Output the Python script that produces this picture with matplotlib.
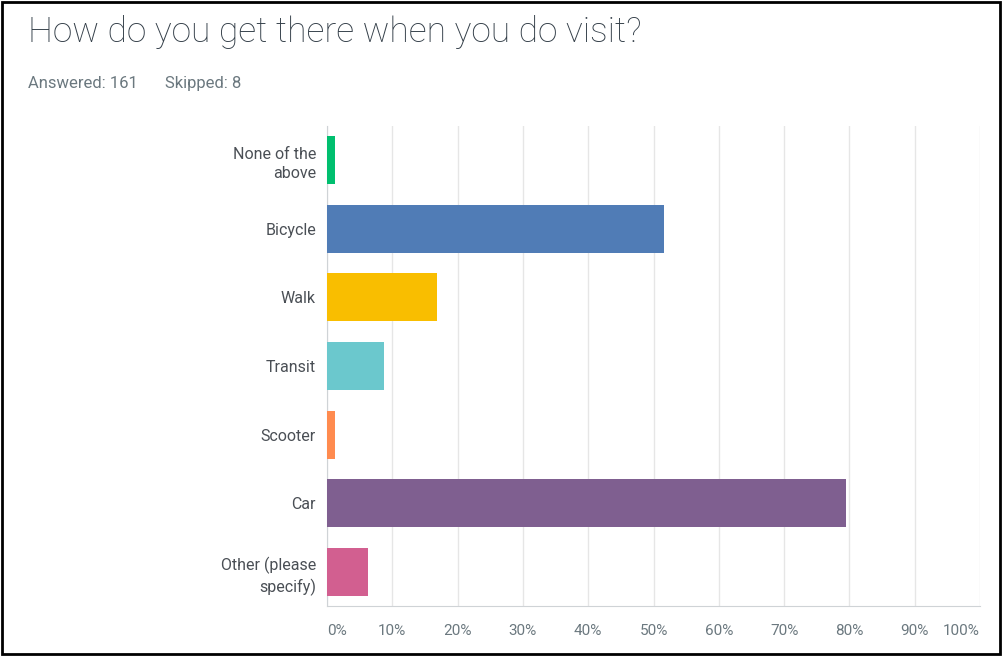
import matplotlib
matplotlib.use("Agg")
from matplotlib import pyplot as plt
from matplotlib.patches import Rectangle

# Survey answers, percent of respondents
modes = ["None of the\nabove", "Bicycle", "Walk", "Transit", "Scooter", "Car",
         "Other (please\nspecify)"]
shares = [1.24, 51.55, 16.77, 8.70, 1.24, 79.50, 6.21]
bar_colors = ["#00bf6f", "#507cb6", "#f9be00", "#6bc8cd", "#ff8b4f", "#7f5f90",
              "#d25f90"]
tick_values = list(range(0, 101, 10))
tick_labels = [f"{v}%" for v in tick_values]

title = "How do you get there when you do visit?"
answered = 161
skipped = 8

plt.rcParams["font.family"] = ["Roboto", "DejaVu Sans"]

fig = plt.figure(figsize=(10.04, 6.56), dpi=100)
ax = fig.add_axes([0.3257, 0.0762, 0.6504, 0.7320])

ypos = list(range(len(modes)))
ax.barh(ypos, shares, height=0.7, color=bar_colors, zorder=3)
ax.set_ylim(len(modes) - 0.5, -0.5)
ax.set_xlim(0, 100)

ax.set_yticks(ypos)
ax.set_yticklabels(modes, fontsize=11.5, color="#4a4f55", linespacing=1.35)
ax.tick_params(axis="y", length=0, pad=8)

ax.set_xticks(tick_values)
ax.set_xticklabels(tick_labels, fontsize=11, color="#6b787f")
ax.tick_params(axis="x", length=0, pad=13)
xlabels = ax.get_xticklabels()
xlabels[0].set_horizontalalignment("left")
xlabels[-1].set_horizontalalignment("right")

ax.grid(axis="x", color="#e6e6e6", linewidth=1, zorder=0)
for side in ["top", "right"]:
    ax.spines[side].set_visible(False)
ax.spines["left"].set_color("#cfd3d6")
ax.spines["bottom"].set_color("#cfd3d6")

fig.text(0.028, 0.951, title, fontsize=25.5, color="#333e48",
         fontweight="light", va="center", ha="left")
fig.text(0.028, 0.872, f"Answered: {answered}", fontsize=12,
         color="#6b787f", va="center", ha="left")
fig.text(0.164, 0.872, f"Skipped: {skipped}", fontsize=12,
         color="#6b787f", va="center", ha="left")

# black frame round the whole figure
fig.patches.append(Rectangle((0.002, 0.003), 0.994, 0.994, transform=fig.transFigure,
                             fill=False, edgecolor="black", linewidth=2))

fig.savefig("out.png", dpi=100)
